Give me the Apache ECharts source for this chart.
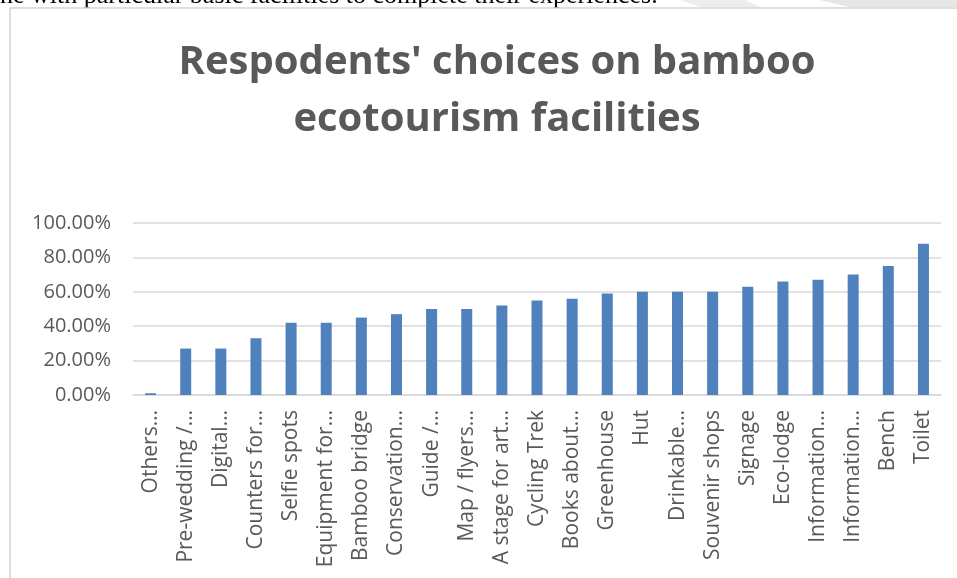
<!DOCTYPE html>
<html>
<head>
<meta charset="utf-8">
<script src="https://cdn.jsdelivr.net/npm/echarts@6/dist/echarts.min.js"></script>
<style>
html,body{margin:0;padding:0;background:#fff;}
#chart{width:957px;height:578px;}
</style>
</head>
<body>
<div id="chart"></div>
<script>
const titleText = "Respodents' choices on bamboo\necotourism facilities";
const categories = ["Others…","Pre-wedding /…","Digital…","Counters for…","Selfie spots","Equipment for…","Bamboo bridge","Conservation…","Guide /…","Map / flyers…","A stage for art…","Cycling Trek","Books about…","Greenhouse","Hut","Drinkable…","Souvenir shops","Signage","Eco-lodge","Information…","Information…","Bench","Toilet"];
const values = [0.01,0.27,0.27,0.33,0.42,0.42,0.45,0.47,0.50,0.50,0.52,0.55,0.56,0.59,0.60,0.60,0.60,0.63,0.66,0.67,0.70,0.75,0.88];
const yTicks = [0,0.2,0.4,0.6,0.8,1.0];

const chart = echarts.init(document.getElementById('chart'));
chart.setOption({
  animation:false,
  backgroundColor:'#fff',
  graphic:[
    {type:'polygon', shape:{points:[[680,0],[745,0],[760,7],[700,7]]}, style:{fill:'#ededed'}},
    {type:'polygon', shape:{points:[[820,0],[957,0],[957,7],[850,7]]}, style:{fill:'#e6e6e6'}},
    {type:'text', x:0, y:9, style:{text:'ne with particular basic facilities to complete their experiences.', font:'26px "Liberation Serif"', fill:'#000', verticalAlign:'bottom'}},
    {type:'line', shape:{x1:10,y1:8,x2:957,y2:8}, style:{stroke:'#d4d4d4', lineWidth:1.5}},
    {type:'line', shape:{x1:10,y1:8,x2:10,y2:578}, style:{stroke:'#d4d4d4', lineWidth:1.5}}
  ],
  title:{
    text:titleText, left:492, textAlign:'center', top:29,
    textStyle:{fontFamily:'Open Sans', fontWeight:'bold', fontSize:40, color:'#595959', lineHeight:57}
  },
  grid:{left:133, right:16, top:223, bottom:183},
  xAxis:{
    type:'category', data:categories,
    axisLine:{lineStyle:{color:'#d9d9d9', width:1.5}},
    axisTick:{show:false},
    axisLabel:{rotate:90, interval:0, fontFamily:'Open Sans', fontSize:21, color:'#595959', margin:15}
  },
  yAxis:{
    type:'value', min:0, max:1, interval:0.2,
    axisLine:{show:false}, axisTick:{show:false},
    splitLine:{lineStyle:{color:'#d9d9d9', width:1.5}},
    axisLabel:{fontFamily:'Open Sans', fontSize:20, color:'#595959', margin:22,
      formatter:v=>(v*100).toFixed(2)+'%'}
  },
  series:[{type:'bar', data:values, barWidth:11, itemStyle:{color:'#4f81bd'}}]
});
</script>
</body>
</html>
